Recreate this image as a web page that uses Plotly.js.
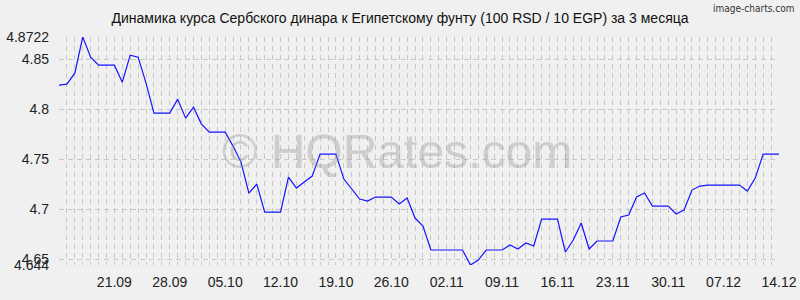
<!DOCTYPE html>
<html>
<head>
<meta charset="utf-8">
<script src="https://cdn.plot.ly/plotly-3.0.1.min.js"></script>
<style>
  html, body { margin: 0; padding: 0; background: #f0f0f0; }
  #chart { width: 800px; height: 300px; }
</style>
</head>
<body>
<div id="chart"></div>
<script>
// Start date of the daily series (14.09 .. 14.12)
const startDate = '2023-09-14';

// Daily rate values, 100 RSD / 10 EGP
const rates = [
  4.824, 4.825, 4.836, 4.8722, 4.852, 4.844, 4.844, 4.844, 4.827, 4.854,
  4.852, 4.826, 4.796, 4.796, 4.796, 4.810, 4.791, 4.802, 4.785, 4.777,
  4.777, 4.777, 4.763, 4.747, 4.716, 4.725, 4.697, 4.697, 4.697, 4.732,
  4.721, 4.727, 4.733, 4.755, 4.755, 4.755, 4.730, 4.720, 4.710, 4.708,
  4.712, 4.712, 4.712, 4.705, 4.711, 4.691, 4.683, 4.659, 4.659, 4.659,
  4.659, 4.659, 4.644, 4.649, 4.659, 4.659, 4.659, 4.664, 4.660, 4.666,
  4.663, 4.690, 4.690, 4.690, 4.657, 4.669, 4.686, 4.660, 4.668, 4.668,
  4.668, 4.692, 4.694, 4.712, 4.716, 4.703, 4.703, 4.703, 4.695, 4.699,
  4.719, 4.723, 4.724, 4.724, 4.724, 4.724, 4.724, 4.718, 4.731, 4.755,
  4.755, 4.755
];

// X tick labels (weekly)
const xTickDates = ['2023-09-21','2023-09-28','2023-10-05','2023-10-12','2023-10-19','2023-10-26',
                    '2023-11-02','2023-11-09','2023-11-16','2023-11-23','2023-11-30','2023-12-07','2023-12-14'];
const xTickLabels = ['21.09','28.09','05.10','12.10','19.10','26.10',
                     '02.11','09.11','16.11','23.11','30.11','07.12','14.12'];

// Y ticks
const yTickVals = [4.644, 4.65, 4.7, 4.75, 4.8, 4.85, 4.8722];
const yTickLabels = ['4.644', '4.65', '4.7', '4.75', '4.8', '4.85', '4.8722'];

const titleText = 'Динамика курса Сербского динара к Египетскому фунту (100 RSD / 10 EGP) за 3 месяца';

// Build daily dates
const dates = [];
const d0 = new Date(startDate + 'T00:00:00Z');
for (let i = 0; i < rates.length; i++) {
  const d = new Date(d0.getTime() + i * 86400000);
  dates.push(d.toISOString().slice(0, 10));
}

const gridColor = '#c8c8c8';
const font = 'Liberation Sans, Arial, sans-serif';

const trace = {
  x: dates,
  y: rates,
  type: 'scatter',
  mode: 'lines',
  line: { color: '#1414ff', width: 1.2 },
  hoverinfo: 'skip'
};

const layout = {
  width: 800,
  height: 300,
  paper_bgcolor: '#f0f0f0',
  plot_bgcolor: '#f0f0f0',
  margin: { l: 59, r: 21, t: 37, b: 35 },
  showlegend: false,
  title: {
    text: titleText,
    font: { family: font, size: 14, color: '#111' },
    x: 0.5, xanchor: 'center',
    y: 0.94, yanchor: 'middle'
  },
  xaxis: {
    type: 'date',
    range: [dates[0], dates[dates.length - 1]],
    tickmode: 'array',
    tickvals: xTickDates,
    ticktext: xTickLabels,
    tickfont: { family: font, size: 14, color: '#222' },
    ticks: '',
    ticklabelstandoff: 7,
    showgrid: true,
    gridcolor: gridColor,
    griddash: '5px,4px',
    gridwidth: 1,
    minor: {
      tickmode: 'linear',
      tick0: dates[0],
      dtick: 86400000,
      showgrid: true,
      gridcolor: gridColor,
      griddash: '5px,4px',
      gridwidth: 1
    },
    zeroline: false,
    showline: false,
    fixedrange: true
  },
  yaxis: {
    range: [4.644, 4.8722],
    tickmode: 'array',
    tickvals: yTickVals,
    ticktext: yTickLabels,
    tickfont: { family: font, size: 14, color: '#222' },
    ticks: '',
    ticklabelstandoff: 9,
    showgrid: true,
    gridcolor: gridColor,
    griddash: '5px,4px',
    gridwidth: 1,
    zeroline: false,
    showline: false,
    fixedrange: true
  },
  annotations: [
    {
      text: '© HQRates.com',
      xref: 'paper', yref: 'paper',
      x: 0.47, y: 0.5,
      xanchor: 'center', yanchor: 'middle',
      showarrow: false,
      font: { family: font, size: 48, color: 'rgba(150,150,150,0.4)' }
    },
    {
      text: 'image-charts.com',
      xref: 'paper', yref: 'paper',
      x: 1.024, y: 1.123,
      xanchor: 'right', yanchor: 'middle',
      showarrow: false,
      font: { family: 'DejaVu Sans Condensed, DejaVu Sans, sans-serif', size: 10, color: '#333' }
    }
  ]
};

Plotly.newPlot('chart', [trace], layout, { staticPlot: true, displayModeBar: false });
</script>
</body>
</html>
